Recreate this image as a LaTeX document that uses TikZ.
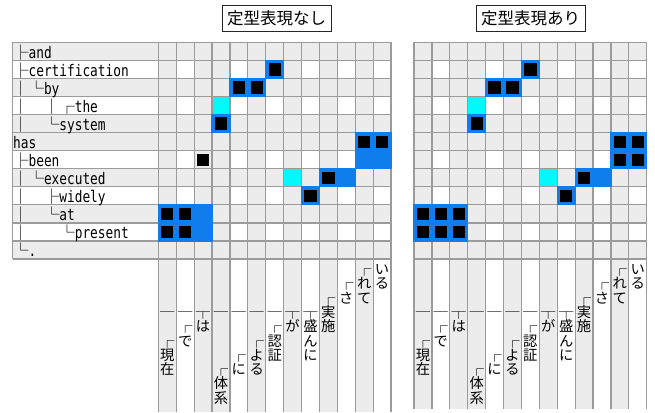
\documentclass[tikz,border=0pt]{standalone}
\usepackage{fontspec}
\setmainfont{DejaVu Sans}
\newfontfamily\jpfont{Noto Sans CJK JP}
\newfontfamily\lblfont[FakeStretch=0.8]{DejaVu Sans Mono}
\definecolor{cellgray}{RGB}{236,236,236}
\definecolor{gridgray}{RGB}{155,155,155}
\definecolor{hlblue}{RGB}{15,125,235}
\definecolor{hlcyan}{RGB}{0,250,250}
\def\gT{42.5}\def\gRH{18.04}\def\gCW{17.9}\def\gLX{158.3}\def\gRX{414}
\def\gLAB{12.7}\def\gGB{259}\def\gJT{262}\def\gJS{14.3}
\newcommand\mkblue[5]{\fill[hlblue] ({#1+(#3-1)*\gCW-0.6},{\gT+(#2-1)*\gRH-0.6}) rectangle ({#1+#5*\gCW+0.6},{\gT+#4*\gRH+0.6});}
\newcommand\mkblack[3]{\fill[black] ({#1+(#3-1)*\gCW+2.8},{\gT+(#2-1)*\gRH+2.8}) rectangle ({#1+#3*\gCW-2.8},{\gT+#2*\gRH-2.8});}
\newcommand\mkcyan[3]{\fill[hlcyan] ({#1+(#3-1)*\gCW},{\gT+(#2-1)*\gRH}) rectangle ({#1+#3*\gCW},{\gT+#2*\gRH});}
\newcommand\jcol[4]{\foreach \s/\ch in {#4} {\node[jpc] (#1c#3s\s) at ({#2+(#3-0.5)*\gCW},{\gJT+(\s+0.5)*\gJS}) {\ch};}}
\newcommand\jpcols[2]{%
\jcol{#1}{#2}{1}{3/─,5/┌,6/現,7/在}%
\jcol{#1}{#2}{2}{3/─,4/┌,5/で}%
\jcol{#1}{#2}{3}{3/┬,4/は}%
\jcol{#1}{#2}{4}{3/─,7/┌,8/体,9/系}%
\jcol{#1}{#2}{5}{3/─,6/┌,7/に}%
\jcol{#1}{#2}{6}{3/─,5/┌,6/よ,7/る}%
\jcol{#1}{#2}{7}{3/─,4/┌,5/認,6/証}%
\jcol{#1}{#2}{8}{3/┬,4/が}%
\jcol{#1}{#2}{9}{3/┬,4/盛,5/ん,6/に}%
\jcol{#1}{#2}{10}{2/┌,3/実,4/施}%
\jcol{#1}{#2}{11}{1/┌,2/さ}%
\jcol{#1}{#2}{12}{0/┌,1/れ,2/て}%
\jcol{#1}{#2}{13}{0/い,1/る}}
\begin{document}
\begin{tikzpicture}[x=1pt,y=-1pt,
 jpc/.style={font=\jpfont\fontsize{14.3}{14.3}\selectfont, inner sep=0pt, text height=12.58pt, text depth=1.72pt},
 lab/.style={font=\lblfont\fontsize{16}{16}\selectfont, inner sep=0pt, anchor=base west},
 titlebox/.style={draw=black!85, line width=0.8pt, font=\jpfont\fontsize{16.5}{16.5}\selectfont, minimum width=109pt, minimum height=26.7pt, inner sep=0pt},
 gridln/.style={draw=gridgray, line width=1.2pt}]
\useasboundingbox (0,0) rectangle (655,412);
% backgrounds
\fill[cellgray] (\gLAB,\gT) rectangle ({\gLX+13*\gCW},\gGB);
\fill[cellgray] (\gLX,\gGB) rectangle ({\gLX+13*\gCW},412);
\fill[cellgray] (\gRX,\gT) rectangle ({\gRX+13*\gCW},409);
\foreach \r in {2,4,7,9,11} {
  \fill[white] (\gLAB,{\gT+(\r-1)*\gRH}) rectangle (\gLX,{\gT+\r*\gRH});
  \foreach \c in {2,5,7,9,11,13} {
    \fill[white] ({\gLX+(\c-1)*\gCW},{\gT+(\r-1)*\gRH}) rectangle ({\gLX+\c*\gCW},{\gT+\r*\gRH});
    \fill[white] ({\gRX+(\c-1)*\gCW},{\gT+(\r-1)*\gRH}) rectangle ({\gRX+\c*\gCW},{\gT+\r*\gRH});
  }
}
\foreach \c in {2,5,7,9,11,13} {
  \fill[white] ({\gLX+(\c-1)*\gCW},\gGB) rectangle ({\gLX+\c*\gCW},412);
  \fill[white] ({\gRX+(\c-1)*\gCW},\gGB) rectangle ({\gRX+\c*\gCW},409);
}
% cyan cells
\mkcyan{\gLX}{4}{4}\mkcyan{\gLX}{8}{8}
\mkcyan{\gRX}{4}{4}\mkcyan{\gRX}{8}{8}
% grid lines
\foreach \i in {0,...,12} {
  \draw[gridln] (\gLAB,{\gT+\i*\gRH}) -- ({\gLX+13*\gCW},{\gT+\i*\gRH});
  \draw[gridln] (\gRX,{\gT+\i*\gRH}) -- ({\gRX+13*\gCW},{\gT+\i*\gRH});
}
\draw[gridln] (\gLAB,\gT) -- (\gLAB,\gGB);
\foreach \c in {0,...,13} {
  \draw[gridln] ({\gLX+\c*\gCW},\gT) -- ({\gLX+\c*\gCW},412);
  \draw[gridln] ({\gRX+\c*\gCW},\gT) -- ({\gRX+\c*\gCW},409);
}
% left grid marks
\mkblue{\gLX}{2}{7}{2}{7}\mkblack{\gLX}{2}{7}
\mkblue{\gLX}{3}{5}{3}{6}\mkblack{\gLX}{3}{5}\mkblack{\gLX}{3}{6}
\mkblue{\gLX}{5}{4}{5}{4}\mkblack{\gLX}{5}{4}
\mkblue{\gLX}{6}{12}{7}{13}\mkblack{\gLX}{6}{12}\mkblack{\gLX}{6}{13}
\mkblack{\gLX}{7}{3}
\mkblue{\gLX}{8}{10}{8}{11}\mkblack{\gLX}{8}{10}
\mkblue{\gLX}{9}{9}{9}{9}\mkblack{\gLX}{9}{9}
\mkblue{\gLX}{10}{1}{11}{3}\mkblack{\gLX}{10}{1}\mkblack{\gLX}{10}{2}\mkblack{\gLX}{11}{1}\mkblack{\gLX}{11}{2}
% right grid marks
\mkblue{\gRX}{2}{7}{2}{7}\mkblack{\gRX}{2}{7}
\mkblue{\gRX}{3}{5}{3}{6}\mkblack{\gRX}{3}{5}\mkblack{\gRX}{3}{6}
\mkblue{\gRX}{5}{4}{5}{4}\mkblack{\gRX}{5}{4}
\mkblue{\gRX}{6}{12}{7}{13}\mkblack{\gRX}{6}{12}\mkblack{\gRX}{6}{13}\mkblack{\gRX}{7}{12}\mkblack{\gRX}{7}{13}
\mkblue{\gRX}{8}{10}{8}{11}\mkblack{\gRX}{8}{10}
\mkblue{\gRX}{9}{9}{9}{9}\mkblack{\gRX}{9}{9}
\mkblue{\gRX}{10}{1}{11}{3}\mkblack{\gRX}{10}{1}\mkblack{\gRX}{10}{2}\mkblack{\gRX}{10}{3}\mkblack{\gRX}{11}{1}\mkblack{\gRX}{11}{2}\mkblack{\gRX}{11}{3}
% English labels
\foreach \r/\pre/\w in {1/├/and,2/├/certification,3/│└/by,4/│　│┌/the,5/│　└/system,6//has,7/├/been,8/│└/executed,9/│　├/widely,10/│　└/at,11/│　　└/present,12/└/.} {
  \node[lab] (lab\r) at (13,{\gT+(\r-0.5)*\gRH+6.5}) {{\jpfont\fontsize{15.4}{15.4}\selectfont\pre}\w};
}
% Japanese labels
\jpcols{L}{\gLX}
\jpcols{R}{\gRX}
% titles
\node[titlebox] (title1) at (276.5,18.3) {定型表現なし};
\node[titlebox] (title2) at (530.5,18.3) {定型表現あり};
\end{tikzpicture}
\end{document}
